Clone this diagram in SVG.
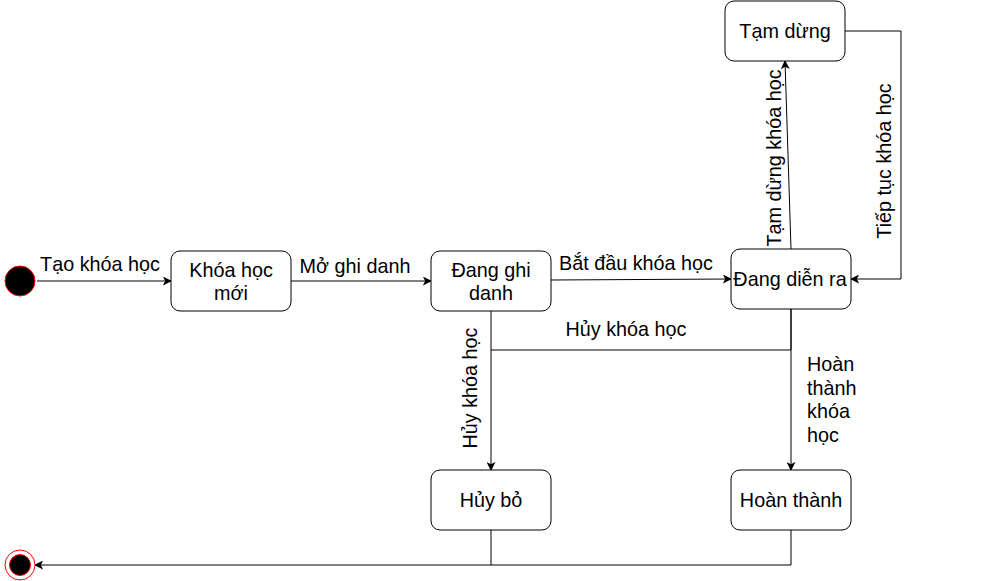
<svg xmlns="http://www.w3.org/2000/svg" width="1006" height="581" viewBox="0 0 1006 581">
<style>
.node rect{fill:#fff;stroke:#000;stroke-width:1}
text{font-family:"Liberation Sans",Arial,Helvetica,sans-serif;font-size:19.8px;fill:#000}
.c{text-anchor:middle}
.edge{fill:none;stroke:#000;stroke-width:1}
</style>
<defs>
<marker id="arr" viewBox="0 0 10 10" refX="9" refY="5" markerWidth="9" markerHeight="9" markerUnits="userSpaceOnUse" orient="auto">
<path d="M0,0 L10,5 L0,10 L2.5,5 Z" fill="#000"/>
</marker>
</defs>
<rect width="1006" height="581" fill="#fff"/>
<g id="connectors">
<line class="edge" x1="37" y1="281" x2="171" y2="281" marker-end="url(#arr)"/>
<line class="edge" x1="291" y1="281" x2="431" y2="281" marker-end="url(#arr)"/>
<line class="edge" x1="551" y1="280" x2="731" y2="279" marker-end="url(#arr)"/>
<line class="edge" x1="491" y1="311" x2="491" y2="470" marker-end="url(#arr)"/>
<polyline class="edge" points="791,309 791,350 491,350"/>
<line class="edge" x1="791" y1="309" x2="791" y2="470" marker-end="url(#arr)"/>
<line class="edge" x1="791" y1="249" x2="785" y2="61" marker-end="url(#arr)"/>
<polyline class="edge" points="845,31 901,31 901,279 851,279" marker-end="url(#arr)"/>
<polyline class="edge" points="491,530 491,565 35,565" marker-end="url(#arr)"/>
<polyline class="edge" points="791,530 791,565 491,565"/>
<text x="100" y="271" class="c">Tạo khóa học</text>
<text x="355" y="273" class="c">Mở ghi danh</text>
<text x="636" y="270" class="c">Bắt đầu khóa học</text>
<text x="626" y="336" class="c">Hủy khóa học</text>
<text transform="translate(477,388) rotate(-90)" class="c">Hủy khóa học</text>
<text transform="translate(781,158) rotate(-90)" class="c">Tạm dừng khóa học</text>
<text transform="translate(891,161) rotate(-90)" class="c">Tiếp tục khóa học</text>
<text x="807" y="371">Hoàn</text>
<text x="807" y="395">thành</text>
<text x="807" y="418">khóa</text>
<text x="807" y="442">học</text>
</g>
<g id="start">
<circle cx="20" cy="281" r="15" fill="#000" stroke="#ff0000" stroke-width="1"/>
</g>
<g id="end">
<circle cx="20" cy="565" r="15" fill="#fff" stroke="#ff0000" stroke-width="1"/>
<circle cx="20" cy="565" r="10.5" fill="#000" stroke="#ff0000" stroke-width="1"/>
</g>
<g id="khoa-hoc-moi" class="node">
<rect x="171" y="251" width="120" height="60" rx="9"/>
<text x="231" y="277" class="c">Khóa học</text>
<text x="231" y="300" class="c">mới</text>
</g>
<g id="dang-ghi-danh" class="node">
<rect x="431" y="251" width="120" height="60" rx="9"/>
<text x="491" y="277" class="c">Đang ghi</text>
<text x="491" y="300" class="c">danh</text>
</g>
<g id="dang-dien-ra" class="node">
<rect x="731" y="249" width="120" height="60" rx="9"/>
<text x="790" y="286" class="c">Đang diễn ra</text>
</g>
<g id="tam-dung" class="node">
<rect x="725" y="1" width="120" height="60" rx="9"/>
<text x="785" y="38" class="c">Tạm dừng</text>
</g>
<g id="huy-bo" class="node">
<rect x="431" y="470" width="120" height="60" rx="9"/>
<text x="491" y="507" class="c">Hủy bỏ</text>
</g>
<g id="hoan-thanh" class="node">
<rect x="731" y="470" width="120" height="60" rx="9"/>
<text x="791" y="507" class="c">Hoàn thành</text>
</g>
</svg>
